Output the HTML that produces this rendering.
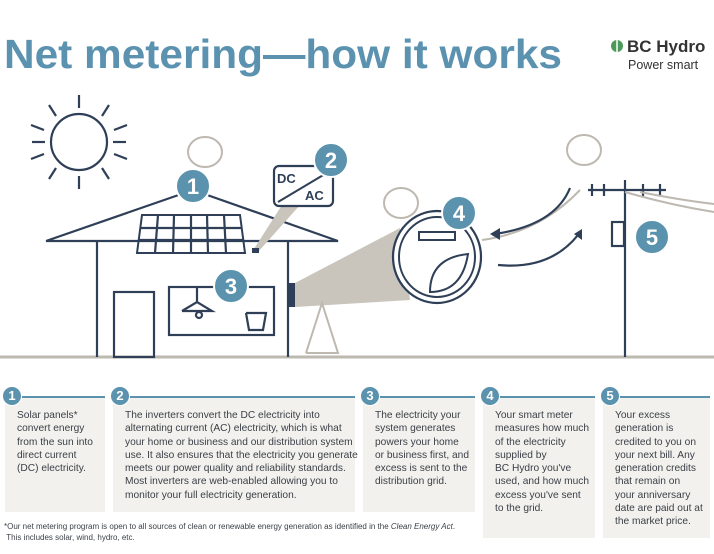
<!DOCTYPE html>
<html><head><meta charset="utf-8"><style>
body{margin:0;width:714px;height:554px;background:#fff;overflow:hidden;position:relative;font-family:"Liberation Sans",sans-serif;}
.box{position:absolute;background:#f2f1ee;top:397px;}
.box p{margin:0;position:absolute;left:12px;top:12px;font-size:10.2px;line-height:13.3px;color:#3a3f46;white-space:nowrap;}
.rule{position:absolute;height:2px;background:#5b92ad;top:396px;}
.badge{position:absolute;width:18px;height:18px;border-radius:50%;background:#5b92ad;color:#fff;font-weight:bold;font-size:13px;text-align:center;line-height:18px;top:386px;border:1px solid #fff;}
</style></head><body>
<svg width="714" height="380" style="position:absolute;left:0;top:0">
<text x="4" y="68" font-family="Liberation Sans" font-weight="bold" font-size="41" fill="#5b92b0" textLength="558" lengthAdjust="spacingAndGlyphs">Net metering—how it works</text>
<g>
<circle cx="617" cy="46" r="6" fill="#4b9a5a"/><line x1="617" y1="40" x2="617" y2="52" stroke="#fff" stroke-width="1.5"/>
<text x="627" y="52" font-weight="bold" font-size="17" fill="#333" font-family="Liberation Sans">BC Hydro</text>
<text x="628" y="69" font-size="12.5" fill="#333" font-family="Liberation Sans">Power smart</text></g>
<line x1="0" y1="357" x2="714" y2="357" stroke="#bdb8b0" stroke-width="3"/>
<g stroke="#2e3f57" stroke-width="2.2" fill="none">
<circle cx="79" cy="142" r="28"/>
<line x1="79" y1="95" x2="79" y2="108"/><line x1="79" y1="176" x2="79" y2="189"/>
<line x1="32" y1="142" x2="45" y2="142"/><line x1="113" y1="142" x2="126" y2="142"/>
<line x1="49" y1="105" x2="56" y2="116"/><line x1="109" y1="105" x2="102" y2="116"/>
<line x1="49" y1="179" x2="56" y2="168"/><line x1="109" y1="179" x2="102" y2="168"/>
<line x1="31" y1="125" x2="44" y2="130"/><line x1="127" y1="125" x2="114" y2="130"/>
<line x1="31" y1="159" x2="44" y2="154"/><line x1="127" y1="159" x2="114" y2="154"/>
</g>
<g stroke="#bdb8b0" stroke-width="2" fill="none">
<ellipse cx="205" cy="152" rx="17" ry="15"/><ellipse cx="401" cy="203" rx="17" ry="15"/><ellipse cx="584" cy="150" rx="17" ry="15"/>
</g>
<g stroke="#2e3f57" stroke-width="2.2" fill="none">
<polyline points="46,241 193,190 338,241 46,241"/>
<polyline points="97,241 97,357"/><polyline points="288,241 288,357"/>
<rect x="114" y="292" width="40" height="65"/>
<rect x="169" y="287" width="105" height="48"/>
<polyline points="182,311 197,302 212,311 182,311"/><circle cx="199" cy="315" r="3"/><line x1="197" y1="287" x2="197" y2="302"/>
<polyline points="246,313 266,313 263,330 249,330 246,313"/>
<polygon points="142,215 240,215 245,253 137,253" stroke-width="2"/>
<line x1="191" y1="215" x2="191" y2="253"/><line x1="140" y1="228" x2="242" y2="228"/><line x1="138" y1="240" x2="244" y2="240"/>
<line x1="158" y1="215" x2="155" y2="253"/><line x1="174" y1="215" x2="173" y2="253"/><line x1="207" y1="215" x2="208" y2="253"/><line x1="224" y1="215" x2="226" y2="253"/>
</g>
<rect x="288" y="283" width="7" height="24" fill="#2e3f57"/>
<polygon points="295,283 400,228 410,300 295,307" fill="#c9c4bc"/>
<polygon points="252,252 282,205 300,205 258,252" fill="#c9c4bc"/>
<rect x="252" y="248" width="7" height="5" fill="#2e3f57"/>
<g>
<rect x="274" y="166" width="59" height="40" rx="5" fill="#fff" stroke="#2e3f57" stroke-width="2.2"/>
<line x1="278" y1="202" x2="330" y2="171" stroke="#2e3f57" stroke-width="2"/>
<text x="277" y="183" font-weight="bold" font-size="13" fill="#2e3f57">DC</text>
<text x="305" y="200" font-weight="bold" font-size="13" fill="#2e3f57">AC</text></g>
<polyline points="306,353 322,303 338,353 306,353" fill="none" stroke="#bdb8b0" stroke-width="2"/>
<g>
<ellipse cx="437" cy="257" rx="44" ry="46" fill="#fff" stroke="#2e3f57" stroke-width="2.2"/>
<ellipse cx="437" cy="257" rx="38" ry="40" fill="none" stroke="#2e3f57" stroke-width="2"/>
<rect x="419" y="232" width="36" height="8" fill="none" stroke="#2e3f57" stroke-width="2"/>
<path d="M430 292 Q430 258 468 254 Q462 292 430 292Z" fill="none" stroke="#2e3f57" stroke-width="2"/></g>
<path d="M482 240 Q540 232 580 190" fill="none" stroke="#bdb8b0" stroke-width="2"/>
<path d="M570 188 Q555 225 495 234" fill="none" stroke="#2e3f57" stroke-width="2.2"/><polygon points="490,234 500,228 500,240" fill="#2e3f57"/>
<path d="M498 265 Q550 270 578 235" fill="none" stroke="#2e3f57" stroke-width="2.2"/><polygon points="582,229 574,234 582,240" fill="#2e3f57"/>
<g stroke="#2e3f57" stroke-width="2.2" fill="none">
<line x1="625" y1="180" x2="625" y2="357"/><line x1="588" y1="190" x2="666" y2="190"/>
<line x1="592" y1="184" x2="592" y2="196"/><line x1="604" y1="184" x2="604" y2="196"/><line x1="643" y1="184" x2="643" y2="196"/><line x1="660" y1="184" x2="660" y2="196"/>
<rect x="612" y="222" width="12" height="24"/></g>
<path d="M625 192 Q670 205 714 212 M640 192 Q680 200 714 204" fill="none" stroke="#bdb8b0" stroke-width="2"/>
<g font-weight="bold" font-size="22" fill="#fff" text-anchor="middle">
<circle cx="193" cy="186" r="17" fill="#5b92ad" stroke="#fff" stroke-width="2"/><text x="193" y="194">1</text>
<circle cx="331" cy="160" r="17" fill="#5b92ad" stroke="#fff" stroke-width="2"/><text x="331" y="168">2</text>
<circle cx="231" cy="286" r="17" fill="#5b92ad" stroke="#fff" stroke-width="2"/><text x="231" y="294">3</text>
<circle cx="459" cy="213" r="17" fill="#5b92ad" stroke="#fff" stroke-width="2"/><text x="459" y="221">4</text>
<circle cx="652" cy="237" r="17" fill="#5b92ad" stroke="#fff" stroke-width="2"/><text x="652" y="245">5</text>
</g>
</svg>

<div class="box" style="left:5px;width:100px;height:115px"><p>Solar panels*<br>convert energy<br>from the sun into<br>direct current<br>(DC) electricity.</p></div>
<div class="box" style="left:113px;width:242px;height:115px"><p>The inverters convert the DC electricity into<br>alternating current (AC) electricity, which is what<br>your home or business and our distribution system<br>use. It also ensures that the electricity you generate<br>meets our power quality and reliability standards.<br>Most inverters are web-enabled allowing you to<br>monitor your full electricity generation.</p></div>
<div class="box" style="left:363px;width:112px;height:115px"><p>The electricity your<br>system generates<br>powers your home<br>or business first, and<br>excess is sent to the<br>distribution grid.</p></div>
<div class="box" style="left:483px;width:112px;height:141px"><p>Your smart meter<br>measures how much<br>of the electricity<br>supplied by<br>BC Hydro you've<br>used, and how much<br>excess you've sent<br>to the grid.</p></div>
<div class="box" style="left:603px;width:107px;height:141px"><p>Your excess<br>generation is<br>credited to you on<br>your next bill. Any<br>generation credits<br>that remain on<br>your anniversary<br>date are paid out at<br>the market price.</p></div>
<div class="rule" style="left:5px;width:100px"></div><div class="rule" style="left:113px;width:242px"></div><div class="rule" style="left:363px;width:112px"></div><div class="rule" style="left:483px;width:112px"></div><div class="rule" style="left:603px;width:107px"></div>
<div class="badge" style="left:2px">1</div>
<div class="badge" style="left:110px">2</div>
<div class="badge" style="left:360px">3</div>
<div class="badge" style="left:480px">4</div>
<div class="badge" style="left:600px">5</div>
<div style="position:absolute;left:4px;top:521px;font-size:8px;line-height:11px;color:#3a3f46;white-space:nowrap">*Our net metering program is open to all sources of clean or renewable energy generation as identified in the <i>Clean Energy Act</i>.<br>&nbsp;This includes solar, wind, hydro, etc.</div>
</body></html>
